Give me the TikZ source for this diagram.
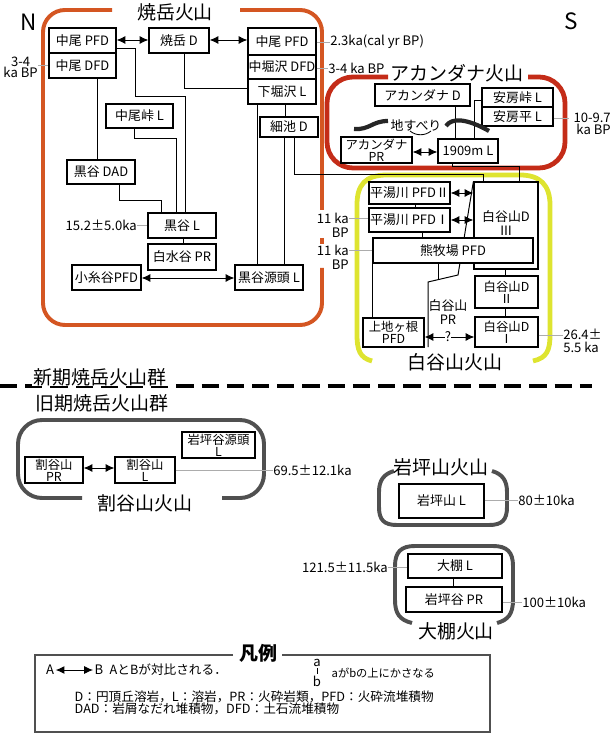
\documentclass[tikz,border=0pt]{standalone}
\usepackage{fontspec}
\setmainfont{Noto Sans CJK JP}
\usetikzlibrary{arrows.meta}
\definecolor{yakeorange}{RGB}{212,86,34}
\definecolor{akared}{RGB}{196,44,24}
\definecolor{shirayellow}{RGB}{222,228,48}
\definecolor{oldgray}{RGB}{80,80,80}
\newcommand\bxfont{\fontsize{9.2}{9.4}\selectfont}
\newcommand\bxtwofont{\fontsize{8.8}{8.7}\selectfont}
\newcommand\lblfont{\fontsize{9.3}{9}\selectfont}
\newcommand\ttlfont{\fontsize{13.5}{14}\selectfont}
\newcommand\legfont{\fontsize{9}{9}\selectfont}
\tikzset{
  >={Latex[length=2.2mm,width=2mm]},
  box/.style={draw,line width=.85pt,fill=white,inner sep=0pt,align=center,font=\bxfont},
  boxtwo/.style={box,font=\bxtwofont},
  bxsize/.style 2 args={minimum width=#1*0.025cm,minimum height=#2*0.025cm},
  bxtext/.style={inner sep=0pt,align=center,font=\bxfont},
  conn/.style={line width=.7pt},
  corr/.style={conn,<->},
  lbl/.style={inner sep=0pt,align=center,font=\lblfont},
  lblline/.style={gray!65,line width=.45pt},
  ttl/.style={inner sep=1pt,font=\ttlfont},
  dirlbl/.style={inner sep=0pt,font=\fontsize{16}{16}\selectfont},
  yakeframe/.style={yakeorange,line width=2.8pt,rounded corners=.55cm},
  akaframe/.style={akared,line width=3.4pt,rounded corners=.65cm},
  shiraframe/.style={shirayellow,line width=3.4pt},
  oldframe/.style={oldgray,line width=2.8pt},
  divider/.style={line width=3.5pt,dash pattern=on .43cm off .2cm},
  slide/.style={black!85,line width=3pt},
  legtxt/.style={inner sep=1pt,font=\legfont}
}
\begin{document}
\begin{tikzpicture}[x=0.025cm,y=-0.025cm]
\useasboundingbox (0,0) rectangle (610,734);

\node[dirlbl] (north) at (29,22) {N};
\node[dirlbl] (south) at (571,21) {S};

% Yakedake
\draw[yakeframe] (112,10) -| (43,325) -| (322,268);
\draw[yakeframe] (240,10) -| (322,210);
\draw[yakeframe] (322,238) -- (322,244);
\node[ttl] (yakeTitle) at (175,12) {焼岳火山};

\node[box,bxsize={67}{25}] (nakaoPFDn) at (82.5,40.5) {中尾 PFD};
\node[box,bxsize={67}{25}] (nakaoDFD) at (82.5,65.5) {中尾 DFD};
\node[box,bxsize={60}{25}] (yakeD) at (179,40.5) {焼岳 D};
\node[box,bxsize={68}{27}] (nakaoPFDs) at (282,41.5) {中尾 PFD};
\node[box,bxsize={68}{24}] (nakahoDFD) at (282,67) {中堀沢 DFD};
\node[box,bxsize={68}{25}] (shimohoL) at (282,91.5) {下堀沢 L};
\node[box,bxsize={67}{24}] (nakaotogeL) at (139.5,116) {中尾峠 L};
\node[box,bxsize={58}{20}] (hosoikeD) at (289,127) {細池 D};
\node[box,bxsize={68}{24}] (kurodaniDAD) at (101,172) {黒谷 DAD};
\node[box,bxsize={68}{25}] (kurodaniL) at (182,225.5) {黒谷 L};
\node[box,bxsize={68}{26}] (shiromizuPR) at (182,257) {白水谷 PR};
\node[box,bxsize={69}{25}] (koitoPFD) at (106.5,277.5) {小糸谷PFD};
\node[box,bxsize={68}{25}] (gentouL) at (269,277.5) {黒谷源頭 L};

\draw[corr] (nakaoPFDn.east |- 0,40) -- (yakeD.west |- 0,40);
\draw[corr] (yakeD.east |- 0,40) -- (nakaoPFDs.west |- 0,40);
\draw[conn] (nakaoPFDn.east |- 0,48) -| (135,96) -| (kurodaniL.north -| 185,0);
\draw[conn] (yakeD.south -| 184,0) |- (shimohoL.west |- 0,88);
\draw[conn] (nakaoDFD.south -| 97,0) -- (kurodaniDAD.north -| 97,0);
\draw[conn] (nakaotogeL.south -| 134,0) |- (176,138) -- (kurodaniL.north -| 176,0);
\draw[conn] (kurodaniDAD.south -| 119,0) |- (161,200) -- (kurodaniL.north -| 161,0);
\draw[conn] (kurodaniL.south -| 183,0) -- (shiromizuPR.north -| 183,0);
\draw[corr] (koitoPFD.east |- 0,278) -- (gentouL.west |- 0,278);
\draw[conn] (shimohoL.south -| 257,0) -- (gentouL.north -| 257,0);
\draw[conn] (shimohoL.south -| 285,0) -- (hosoikeD.north -| 285,0);
\draw[conn] (hosoikeD.south -| 284,0) -- (gentouL.north -| 284,0);

% Akandana
\draw[akaframe] (388,77) -| (327,168) -| (565,77) -- (528,77);
\node[ttl] (akaTitle) at (457,73) {アカンダナ火山};

\node[box,bxsize={95}{22}] (akaD) at (422.5,95) {アカンダナ D};
\node[box,bxsize={71}{19}] (abotogeL) at (517.5,97.5) {安房峠 L};
\node[box,bxsize={71}{19}] (abodairaL) at (517.5,116.5) {安房平 L};
\node[boxtwo,bxsize={71}{26}] (akaPR) at (376.5,150) {アカンダナ\\PR};
\node[box,bxsize={60}{24}] (m1909L) at (468,151) {1909m L};

\draw[conn] (akaD.south -| 455,0) -- (m1909L.north -| 455,0);
\draw[conn] (abotogeL.west |- 0,100) -| (m1909L.north -| 474,0);
\draw[corr] (akaPR.east |- 0,152) -- (m1909L.west |- 0,152);
\node[bxtext] (slideT) at (416,125) {地すべり};
\draw[slide] (354,129) .. controls (370,130) and (372,121) .. (388,121);
\draw[slide] (446,126) .. controls (452,117) and (468,119) .. (489,131);
\draw[conn,line width=.6pt] (410,131) .. controls (416,136) and (425,136) .. (431,131);

% Shiratani
\draw[shiraframe] (372,361) .. controls (360,358) and (357,350) .. (357,335)
  -- (357,205) .. controls (357,185) and (365,175) .. (387,175) -- (520,175)
  .. controls (540,175) and (550,185) .. (550,205) -- (550,335)
  .. controls (550,350) and (547,358) .. (533,361);
\node[ttl] (shiraTitle) at (455,362) {白谷山火山};

\draw[conn] (hosoikeD.south -| 294,0) |- (483,174) -- (483,182);
\draw[conn] (m1909L.south -| 452,0) |- (519,166) -- (519,182);

\node[box,bxsize={81}{22}] (hirayu2) at (409.5,193) {平湯川 PFDⅡ};
\node[box,bxsize={81}{24}] (hirayu1) at (409.5,220) {平湯川 PFDⅠ};
\node[box,bxsize={64}{87}] (shiraD3) at (506,225.5) {};
\node[bxtext] (shiraD3txt) at (506,223) {白谷山D\\Ⅲ};
\draw[conn] (shiraD3.north west) -- (458,275) -- (428,282) -- (428,347);
\node[box,bxsize={160}{25}] (kumaPFD) at (453,250.5) {熊牧場 PFD};
\node[boxtwo,bxsize={63}{32}] (shiraD2) at (506.5,292) {白谷山D\\Ⅱ};
\node[boxtwo,bxsize={63}{30}] (shiraD1) at (506.5,332) {白谷山D\\Ⅰ};
\node[boxtwo,bxsize={61}{29}] (kamiPFD) at (393.5,332.5) {上地ヶ根\\PFD};
\node[bxtext] (shiraPR) at (448,312) {白谷山\\PR};
\node[lbl] (shiraQ) at (448,337) {?};

\draw[conn] (hirayu2.south -| 415,0) -- (hirayu1.north -| 415,0);
\draw[corr] (hirayu2.east |- 0,193) -- (shiraD3.west |- 0,193);
\draw[corr] (hirayu1.east |- 0,220) -- (shiraD3.west |- 0,220);
\draw[conn] (hirayu1.south -| 422,0) -- (kumaPFD.north -| 422,0);
\draw[conn] (kumaPFD.south -| 372,0) -- (kamiPFD.north -| 372,0);
\draw[conn] (kumaPFD.south -| 438,0) -- (438,279);
\draw[conn] (shiraD3.south -| 505,0) -- (shiraD2.north -| 505,0);
\draw[conn] (shiraD2.south -| 505,0) -- (shiraD1.north -| 505,0);
\draw[conn,->] (shiraQ.west) -- (kamiPFD.east |- shiraQ.west);
\draw[conn,->] (shiraQ.east) -- (shiraD1.west |- shiraQ.east);

% ages
\node[lbl,anchor=east,font=\fontsize{9.3}{8}\selectfont] (ageL34) at (38,67) {3-4\\ka BP};
\draw[lblline] (ageL34.east |- 0,65) -- (nakaoDFD.west |- 0,65);
\node[lbl,anchor=west] (age23) at (330,42) {2.3ka(cal yr BP)};
\draw[lblline] (nakaoPFDs.east |- 0,42) -- (age23.west);
\node[lbl,anchor=west] (ageR34) at (328,68) {3-4 ka BP};
\draw[lblline] (nakahoDFD.east |- 0,68) -- (ageR34.west);
\node[lbl,anchor=east,align=right] (age97) at (611,124) {10-9.7\\ka BP};
\draw[lblline] (abodairaL.east |- 0,118) -- (569,118);
\node[lbl,anchor=east,align=right,font=\fontsize{9.3}{10}\selectfont] (age11a) at (349,225) {11 ka\\BP};
\draw[lblline] (age11a.east |- 0,218) -- (hirayu1.west |- 0,218);
\node[lbl,anchor=east,align=right,font=\fontsize{9.3}{10}\selectfont] (age11b) at (349,257) {11 ka\\BP};
\draw[lblline] (age11b.east |- 0,250) -- (kumaPFD.west |- 0,250);
\node[lbl,anchor=east] (age152) at (137,225) {15.2±5.0ka};
\draw[lblline] (age152.east) -- (kurodaniL.west |- age152.east);
\node[lbl,anchor=west,align=left,font=\fontsize{9.3}{9.5}\selectfont] (age264) at (563,341) {26.4±\\5.5 ka};
\draw[lblline] (shiraD1.east |- 0,335) -- (563,335);

% divider
\draw[divider] (0,386) -- (592,386);
\node[ttl,fill=white,inner ysep=0pt] (newGroup) at (100,377) {新期焼岳火山群};
\node[ttl] (oldGroup) at (102,403) {旧期焼岳火山群};

% Wariyama
\draw[oldframe,rounded corners=.6cm] (82,498) -| (18,420) -| (264,498) -- (222,498);
\node[ttl] (wariTitle) at (145,503) {割谷山火山};
\node[boxtwo,bxsize={58}{26}] (wariPR) at (54,470) {割谷山\\PR};
\node[boxtwo,bxsize={60}{26}] (wariL) at (145,470) {割谷山\\L};
\node[boxtwo,bxsize={73}{26}] (iwaGenL) at (218.5,445) {岩坪谷源頭\\L};
\draw[corr] (wariPR.east |- 0,468) -- (wariL.west |- 0,468);
\node[lbl,anchor=west] (age695) at (273,470) {69.5±12.1ka};
\draw[lblline] (wariL.east |- 0,470) -- (age695.west);

% Iwatsubo
\draw[oldframe] (394,471) .. controls (384,474) and (379,480) .. (379,492) -- (379,507)
  .. controls (379,520) and (384,525) .. (397,525) -- (489,525)
  .. controls (502,525) and (507,520) .. (507,507) -- (507,492)
  .. controls (507,480) and (502,474) .. (492,471);
\node[ttl] (iwaTitle) at (441,467) {岩坪山火山};
\node[box,bxsize={85}{34}] (iwaL) at (441.5,501) {岩坪山 L};
\node[lbl,anchor=west] (age80) at (518,500) {80±10ka};
\draw[lblline] (iwaL.east |- 0,500) -- (age80.west);

% Ohdana
\draw[oldframe] (412,623) .. controls (400,620) and (395,614) .. (395,600) -- (395,566)
  .. controls (395,552) and (401,546) .. (415,546) -- (493,546)
  .. controls (507,546) and (513,552) .. (513,566) -- (513,600)
  .. controls (513,614) and (508,620) .. (497,623);
\node[ttl] (ohdTitle) at (456,631) {大棚火山};
\node[box,bxsize={94}{24}] (ohdanaL) at (455,566) {大棚 L};
\node[box,bxsize={96}{25}] (iwaPR) at (454,599.5) {岩坪谷 PR};
\draw[conn] (ohdanaL.south -| 453,0) -- (iwaPR.north -| 453,0);
\node[lbl,anchor=east] (age1215) at (388,567) {121.5±11.5ka};
\draw[lblline] (age1215.east) -- (ohdanaL.west |- age1215.east);
\node[lbl,anchor=west] (age100) at (522,602) {100±10ka};
\draw[lblline] (iwaPR.east |- 0,602) -- (age100.west);

% legend
\draw[oldgray,line width=.9pt] (233,655) -| (35,732) -| (490,655) -- (282,655);
\node[ttl,font=\ttlfont\bfseries] (legTitle) at (258,653) {凡例};
\node[legtxt,font=\lblfont] (legA) at (50,670) {A};
\node[legtxt,font=\lblfont] (legB) at (99,670) {B};
\draw[corr] (legA) -- (legB);
\node[legtxt,anchor=west] (legCorr) at (108,670) {AとBが対比される．};
\node[legtxt,font=\lblfont] (legSa) at (317,663) {a};
\node[legtxt,font=\lblfont] (legSb) at (317,681) {b};
\draw[conn] (legSa) -- (legSb);
\node[legtxt,anchor=west,font=\fontsize{8}{8}\selectfont] (legOver) at (330,673) {aがbの上にかさなる};
\node[legtxt,anchor=west] (legRow2) at (73,697) {D：円頂丘溶岩，L：溶岩，PR：火砕岩類，PFD：火砕流堆積物};
\node[legtxt,anchor=west] (legRow3) at (73,709) {DAD：岩屑なだれ堆積物，DFD：土石流堆積物};
\end{tikzpicture}
\end{document}
